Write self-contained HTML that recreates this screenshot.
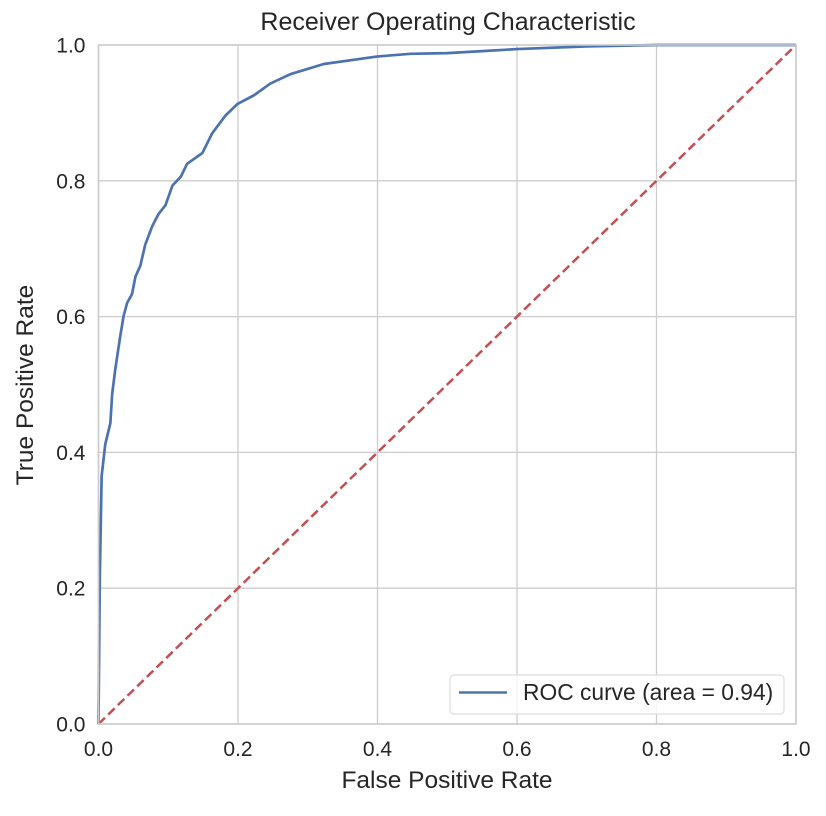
<!DOCTYPE html>
<html><head><meta charset="utf-8"><style>
html,body{margin:0;padding:0;background:#fff;}
svg text{font-family:"Liberation Sans",Arial,sans-serif;fill:#262626;}
</style></head><body>
<svg id="chart" width="826" height="811" viewBox="0 0 826 811" xmlns="http://www.w3.org/2000/svg">
<g id="grid"></g>
<g id="ticks"></g>
<g id="series"></g>
<rect x="98.5" y="45" width="697.5" height="679" fill="none" stroke="#cccccc" stroke-width="1.6"/>
<text x="448" y="30" text-anchor="middle" font-size="25">Receiver Operating Characteristic</text>
<text x="447" y="788" text-anchor="middle" font-size="24.5">False Positive Rate</text>
<text x="33" y="385" text-anchor="middle" font-size="24.5" transform="rotate(-90 33 385)">True Positive Rate</text>
<g>
<rect x="450" y="675" width="334" height="39" rx="4" fill="#fff" fill-opacity="0.8" stroke="#dddddd" stroke-width="1.2"/>
<line x1="459" y1="692.5" x2="507" y2="692.5" stroke="#4c72b0" stroke-width="2.5"/>
<text x="523" y="700" font-size="22.8">ROC curve (area = 0.94)</text>
</g>
</svg>
<script>
const xTicks=[0,0.2,0.4,0.6,0.8,1.0];
const yTicks=[0,0.2,0.4,0.6,0.8,1.0];
const tickLabels=["0.0","0.2","0.4","0.6","0.8","1.0"];
const fpr=[0,0.0019,0.0045,0.0097,0.017,0.0196,0.024,0.031,0.036,0.041,0.048,0.053,0.060,0.067,0.077,0.086,0.096,0.106,0.118,0.127,0.149,0.163,0.182,0.199,0.223,0.246,0.275,0.323,0.399,0.447,0.5,0.55,0.6,0.7,0.8,1.0];
const tpr=[0,0.217,0.365,0.412,0.443,0.486,0.522,0.570,0.601,0.620,0.633,0.659,0.675,0.706,0.733,0.751,0.764,0.793,0.806,0.825,0.841,0.870,0.896,0.913,0.926,0.943,0.957,0.972,0.983,0.987,0.988,0.991,0.994,0.998,1.0,1.0];
const chanceX=[0,1];
const chanceY=[0,1];
const X0=98.5,X1=796,Y0=724,Y1=45;
const sx=v=>X0+v*(X1-X0);
const sy=v=>Y0-v*(Y0-Y1);
const NS="http://www.w3.org/2000/svg";
const grid=document.getElementById('grid'),ticks=document.getElementById('ticks'),series=document.getElementById('series');
xTicks.forEach((t,i)=>{
 const l=document.createElementNS(NS,'line');
 l.setAttribute('x1',sx(t));l.setAttribute('x2',sx(t));l.setAttribute('y1',Y1);l.setAttribute('y2',Y0);
 l.setAttribute('stroke','#cccccc');l.setAttribute('stroke-width','1.3');
 
 
 grid.appendChild(l);
 const tx=document.createElementNS(NS,'text');
 tx.setAttribute('x',sx(t));tx.setAttribute('y',Y0+32);tx.setAttribute('text-anchor','middle');tx.setAttribute('font-size','21');
 tx.textContent=tickLabels[i];
 
 
 ticks.appendChild(tx);
});
yTicks.forEach((t,i)=>{
 const l=document.createElementNS(NS,'line');
 l.setAttribute('x1',X0);l.setAttribute('x2',X1);l.setAttribute('y1',sy(t));l.setAttribute('y2',sy(t));
 l.setAttribute('stroke','#cccccc');l.setAttribute('stroke-width','1.3');
 
 
 grid.appendChild(l);
 const tx=document.createElementNS(NS,'text');
 tx.setAttribute('x',X0-13);tx.setAttribute('y',sy(t)+7.5);tx.setAttribute('text-anchor','end');tx.setAttribute('font-size','21');
 tx.textContent=tickLabels[i];
 
 
 ticks.appendChild(tx);
});
const d=document.createElementNS(NS,'polyline');
d.setAttribute('points',chanceX.map((v,i)=>sx(v)+','+sy(chanceY[i])).join(' '));
d.setAttribute('fill','none');d.setAttribute('stroke','#c44e52');d.setAttribute('stroke-width','2.5');d.setAttribute('stroke-dasharray','9,4.5');


series.appendChild(d);
const p=document.createElementNS(NS,'polyline');
p.setAttribute('points',fpr.map((v,i)=>sx(v)+','+sy(tpr[i])).join(' '));
p.setAttribute('fill','none');p.setAttribute('stroke','#4c72b0');p.setAttribute('stroke-width','2.7');p.setAttribute('stroke-linejoin','round');


series.appendChild(p);
</script>
</body></html>
